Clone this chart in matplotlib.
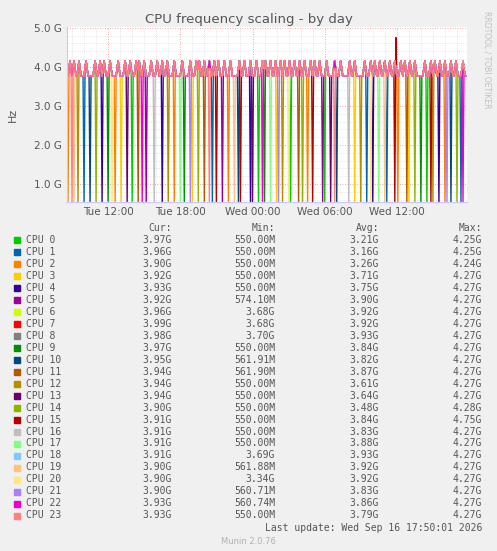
import numpy as np
import matplotlib
matplotlib.use("Agg")
import matplotlib.pyplot as plt
from matplotlib.ticker import FixedLocator, MultipleLocator

# --- data (hours since Tue 00:00, values in GHz) ---
names = [f"CPU {i}" for i in range(24)]
colors = ["#00CC00", "#0066B3", "#FF8000", "#FFCC00", "#330099", "#990099",
          "#CCFF00", "#FF0000", "#808080", "#008F00", "#00487D", "#B35A00",
          "#B38F00", "#6B006B", "#8FB300", "#B30000", "#BEBEBE", "#80FF80",
          "#80C9FF", "#FFC080", "#FFE680", "#AA80FF", "#EE00CC", "#FF8080"]
cur = ["3.97G", "3.96G", "3.90G", "3.92G", "3.93G", "3.92G", "3.96G", "3.99G",
       "3.98G", "3.97G", "3.95G", "3.94G", "3.94G", "3.94G", "3.90G", "3.91G",
       "3.91G", "3.91G", "3.91G", "3.90G", "3.90G", "3.90G", "3.93G", "3.93G"]
mins = ["550.00M", "550.00M", "550.00M", "550.00M", "550.00M", "574.10M",
        "3.68G", "3.68G", "3.70G", "550.00M", "561.91M", "561.90M",
        "550.00M", "550.00M", "550.00M", "550.00M", "550.00M", "550.00M",
        "3.69G", "561.88M", "3.34G", "560.71M", "560.74M", "550.00M"]
avgs = ["3.21G", "3.16G", "3.26G", "3.71G", "3.75G", "3.90G", "3.92G", "3.92G",
        "3.93G", "3.84G", "3.82G", "3.87G", "3.61G", "3.64G", "3.48G", "3.84G",
        "3.83G", "3.88G", "3.93G", "3.92G", "3.92G", "3.83G", "3.86G", "3.79G"]
maxs = ["4.25G", "4.25G", "4.24G", "4.27G", "4.27G", "4.27G", "4.27G", "4.27G",
        "4.27G", "4.27G", "4.27G", "4.27G", "4.27G", "4.27G", "4.28G", "4.75G",
        "4.27G", "4.27G", "4.27G", "4.27G", "4.27G", "4.27G", "4.27G", "4.27G"]

idle_level = 3.77
shoulder_level = 3.95
peak_level = 4.15
dip_level = 0.55
peak_hours = [8.8, 9.2, 9.6, 10.2, 10.9, 11.3, 11.7, 12.2, 12.8, 13.4, 13.8,
              14.3, 14.6, 15.0, 15.6, 16.1, 16.5, 16.9, 17.5, 18.2, 18.8,
              19.3, 19.6, 20.0, 20.4, 20.8, 21.2, 21.7, 22.2, 22.9, 23.3,
              23.8, 24.3, 24.8, 25.1, 25.5, 25.9, 26.3, 26.7, 27.1, 27.5,
              27.9, 28.3, 28.8, 29.2, 29.6, 30.2, 30.8, 31.3, 32.1, 32.5,
              33.3, 33.8, 34.2, 34.6, 35.0, 35.4, 35.8, 36.3, 36.7, 37.1,
              37.5, 38.3, 38.8, 39.2, 39.6, 40.0, 40.5, 40.9, 41.5]
dips = {
    0: [14.0, 24.5, 27.2, 30.0, 38.5], 1: [10.0, 20.7, 33.5, 35.2, 41.3],
    2: [8.7, 12.6, 17.5, 22.0, 28.6, 36.1, 40.0], 3: [13.1, 19.0, 26.0, 32.5, 37.0],
    4: [11.5, 16.5, 23.8, 34.0, 39.5], 5: [15.2, 21.5, 29.8],
    9: [12.0, 18.3, 25.0, 38.0], 10: [10.5, 22.8, 31.0, 40.5],
    11: [14.5, 20.0, 27.8, 36.8], 12: [9.5, 17.0, 26.5, 33.0, 39.0],
    13: [13.6, 24.0, 30.5], 14: [11.0, 19.5, 28.2, 37.5, 41.0],
    15: [21.0, 23.0, 29.0, 35.8, 38.8], 16: [15.8, 32.0],
    17: [18.0, 25.5, 34.5], 18: [], 19: [9.2, 22.5, 35.0],
    20: [12.3, 27.0, 33.8], 21: [18.8, 26.2, 40.2], 22: [14.8, 24.8, 41.5],
    23: [9.0, 20.4, 30.8],
}
spike_cpu, spike_hour, spike_value = 15, 35.9, 4.75

t0, t1 = 8.58, 41.83
t = np.arange(t0, t1, 1 / 12)

fig = plt.figure(figsize=(4.97, 5.51), dpi=100, facecolor="#F0F0F0")
ax = fig.add_axes([67 / 497, 1 - 202 / 551, 400 / 497, 175 / 551])
ax.set_facecolor("white")

for i in range(24):
    y = np.full_like(t, idle_level)
    for p in peak_hours:
        k = np.argmin(np.abs(t - p))
        y[max(k - 1, 0)] = max(y[max(k - 1, 0)], shoulder_level)
        if k + 1 < len(y):
            y[k + 1] = max(y[k + 1], shoulder_level)
        y[k] = peak_level
    for d in dips.get(i, []):
        y[np.argmin(np.abs(t - d))] = dip_level
    if i == spike_cpu:
        y[np.argmin(np.abs(t - spike_hour))] = spike_value
    ax.plot(t, y, color=colors[i], lw=1.0)

ax.set_xlim(t0, t1)
ax.set_ylim(0.54, 5.02)
ax.yaxis.set_major_locator(FixedLocator([1, 2, 3, 4, 5]))
ax.yaxis.set_minor_locator(MultipleLocator(0.2))
ax.set_yticklabels(["1.0 G", "2.0 G", "3.0 G", "4.0 G", "5.0 G"])
ax.xaxis.set_major_locator(FixedLocator([12, 18, 24, 30, 36]))
ax.xaxis.set_minor_locator(MultipleLocator(1))
ax.set_xticklabels(["Tue 12:00", "Tue 18:00", "Wed 00:00", "Wed 06:00", "Wed 12:00"])
ax.grid(which="major", color="#E09090", ls=(0, (1, 2)), lw=0.6)
ax.grid(which="minor", color="#D0D0D0", ls=(0, (1, 2)), lw=0.5)
ax.tick_params(which="both", length=0, labelsize=7.5, colors="#555555")
for s in ["top", "right"]:
    ax.spines[s].set_visible(False)
for s in ["left", "bottom"]:
    ax.spines[s].set_color("#C8C8FF")
ax.set_ylabel("Hz", fontsize=8, color="#555555", labelpad=12)

fig.text(0.5, 1 - 19 / 551, "CPU frequency scaling - by day", ha="center",
         va="center", fontsize=9.5, color="#555555")
fig.text(487 / 497, 1 - 60 / 551, "RRDTOOL / TOBI OETIKER", rotation=270,
         ha="center", va="center", fontsize=5.5, color="#C0C0C0")

mono = dict(family="DejaVu Sans Mono", fontsize=7, color="#555555", va="center")
def fy(py):
    return 1 - py / 551

cols = [172, 275, 379, 482]
for x, h in zip(cols, ["Cur:", "Min:", "Avg:", "Max:"]):
    fig.text(x / 497, fy(228), h, ha="right", **mono)
for i in range(24):
    py = 240 + i * 11.97
    fig.patches.append(plt.Rectangle((14 / 497, fy(py + 3.5)), 6 / 497, 6 / 551,
                                     transform=fig.transFigure, color=colors[i]))
    fig.text(26 / 497, fy(py), names[i], ha="left", **mono)
    for x, v in zip(cols, [cur[i], mins[i], avgs[i], maxs[i]]):
        fig.text(x / 497, fy(py), v, ha="right", **mono)
fig.text(482 / 497, fy(528), "Last update: Wed Sep 16 17:50:01 2026", ha="right", **mono)
fig.text(0.5, fy(541), "Munin 2.0.76", ha="center", va="center", fontsize=6,
         color="#B0B0B0")

fig.savefig("out.png", dpi=100, facecolor=fig.get_facecolor())
